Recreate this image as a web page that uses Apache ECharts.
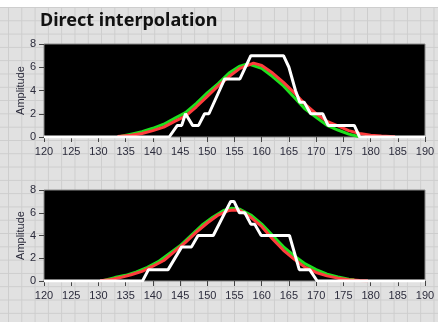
<!DOCTYPE html>
<html>
<head>
<meta charset="utf-8">
<script src="https://cdn.jsdelivr.net/npm/echarts@6/dist/echarts.min.js"></script>
<style>
  html, body { margin: 0; padding: 0; background: #ffffff; }
  #panel {
    position: absolute; left: 0; top: 7px; width: 438px; height: 315px;
    background-color: #e1e1e1;
    background-image:
      linear-gradient(to right, #cdcdcd 1px, transparent 1px),
      linear-gradient(to bottom, #cdcdcd 1px, transparent 1px);
    background-size: 13.3px 13.3px;
    background-position: 8px 0px;
  }
  #chart { position: absolute; left: 0; top: 0; width: 438px; height: 322px; }
</style>
</head>
<body>
<div id="panel"></div>
<div id="chart"></div>
<script>
// x-axis range and tick labels shared by both graphs
const xTicks = [120, 125, 130, 135, 140, 145, 150, 155, 160, 165, 170, 175, 180, 185, 190];
const yTicks = [0, 2, 4, 6, 8];

// Upper graph: measured steps (white), two fitted curves (green, red)
const topMeasured = [
  [120, 0], [143, 0], [144.5, 1], [145.3, 1], [146, 2], [147.3, 1], [148.4, 1],
  [149.5, 2], [150.3, 2], [153.2, 5], [156, 5], [158, 7], [164, 7], [165, 6],
  [166.2, 4], [167, 3], [167.8, 3], [169, 2], [171.2, 2], [172.2, 1], [177, 1],
  [178, 0], [190, 0]
];
const topGreen = [
  [134, 0.05], [136, 0.25], [138, 0.45], [140, 0.75], [142, 1.1], [144, 1.6],
  [146, 2.1], [148, 2.9], [150, 3.8], [152, 4.6], [154, 5.5], [156, 6.1],
  [157.5, 6.3], [160, 5.9], [162, 5.2], [164, 4.4], [166, 3.4], [168, 2.4],
  [170, 1.7], [172, 1.0], [174, 0.6], [176, 0.25], [178, 0.02]
];
const topRed = [
  [133.5, 0.05], [136, 0.15], [138, 0.3], [140, 0.55], [142, 0.85], [144, 1.35],
  [146, 1.8], [148, 2.6], [150, 3.5], [152, 4.4], [154, 5.2], [156, 5.9],
  [158.5, 6.35], [160, 6.15], [162, 5.5], [164, 4.7], [166, 3.8], [168, 2.8],
  [170, 2.0], [172, 1.35], [174, 0.95], [176, 0.55], [178, 0.3], [180, 0.15],
  [182, 0.08], [184.5, 0.02]
];

// Lower graph
const bottomMeasured = [
  [120, 0], [138.1, 0], [139.2, 1], [142.8, 1], [145.3, 3], [147.1, 3],
  [148.3, 4], [151.1, 4], [154.3, 7], [154.9, 7], [155.9, 6], [156.9, 6],
  [158, 5], [158.7, 5], [159.9, 4], [165.1, 4], [166.9, 1], [168.8, 1],
  [170.2, 0], [190, 0]
];
const bottomGreen = [
  [131, 0.05], [133, 0.3], [135, 0.5], [137, 0.8], [139, 1.2], [141, 1.7],
  [143, 2.4], [145, 3.1], [147, 4.0], [149, 4.9], [151, 5.6], [153, 6.2],
  [154.5, 6.4], [156, 6.3], [158, 5.8], [160, 5.0], [162, 4.0], [164, 3.0],
  [166, 2.2], [168, 1.5], [170, 1.0], [172, 0.6], [174, 0.35], [176, 0.15],
  [177, 0.1]
];
const bottomRed = [
  [130.3, 0.02], [132, 0.1], [134, 0.3], [136, 0.55], [138, 0.85], [140, 1.3],
  [142, 1.8], [144, 2.6], [146, 3.4], [148, 4.3], [150, 5.1], [152, 5.8],
  [154, 6.2], [155, 6.25], [156, 6.2], [158, 5.6], [160, 4.8], [162, 3.7],
  [164, 2.7], [166, 1.9], [168, 1.2], [170, 0.75], [172, 0.45], [174, 0.25],
  [176, 0.12], [178, 0.05], [179.5, 0.02]
];

const labelFont = 'Liberation Sans Narrow, Liberation Sans, sans-serif';
const labelColor = '#2c2c3c';

function makeX(gridIndex) {
  return {
    type: 'value', gridIndex,
    min: xTicks[0], max: xTicks[xTicks.length - 1], interval: 5,
    axisLine: { show: false },
    axisTick: { show: true, length: 5, inside: false, lineStyle: { color: '#444' } },
    splitLine: { show: false },
    axisLabel: { margin: 9, fontSize: 11, color: labelColor, fontFamily: labelFont }
  };
}
function makeY(gridIndex) {
  return {
    type: 'value', gridIndex,
    min: yTicks[0], max: yTicks[yTicks.length - 1], interval: 2,
    name: 'Amplitude', nameLocation: 'middle', nameGap: 18, nameMoveOverlap: false,
    nameTextStyle: { fontSize: 11, color: labelColor, fontFamily: 'Liberation Sans, sans-serif' },
    axisLine: { show: false },
    axisTick: { show: true, length: 5, lineStyle: { color: '#444' } },
    splitLine: { show: false },
    axisLabel: { margin: 8, fontSize: 11, color: labelColor, fontFamily: labelFont }
  };
}
function line(data, color, xi, z) {
  return {
    type: 'line', data, xAxisIndex: xi, yAxisIndex: xi,
    showSymbol: false, smooth: false, z,
    lineStyle: { color, width: 3 },
    itemStyle: { color },
    animation: false
  };
}

const chart = echarts.init(document.getElementById('chart'), null, { renderer: 'canvas' });
chart.setOption({
  backgroundColor: 'transparent',
  animation: false,
  title: {
    text: 'Direct interpolation', left: 35, top: 7,
    textStyle: { fontSize: 18, fontWeight: 'bold', color: '#111', fontFamily: 'Noto Sans, sans-serif' }
  },
  grid: [
    { left: 44, right: 13, top: 44, height: 93, show: true, backgroundColor: '#000', borderColor: '#8a8a8a', borderWidth: 1 },
    { left: 44, right: 13, top: 190, height: 91, show: true, backgroundColor: '#000', borderColor: '#8a8a8a', borderWidth: 1 }
  ],
  xAxis: [makeX(0), makeX(1)],
  yAxis: [makeY(0), makeY(1)],
  series: [
    line(topGreen, '#1ee01e', 0, 2),
    line(topRed, '#ff3c3c', 0, 3),
    line(topMeasured, '#ffffff', 0, 4),
    line(bottomGreen, '#1ee01e', 1, 2),
    line(bottomRed, '#ff3c3c', 1, 3),
    line(bottomMeasured, '#ffffff', 1, 4)
  ]
});
</script>
</body>
</html>
